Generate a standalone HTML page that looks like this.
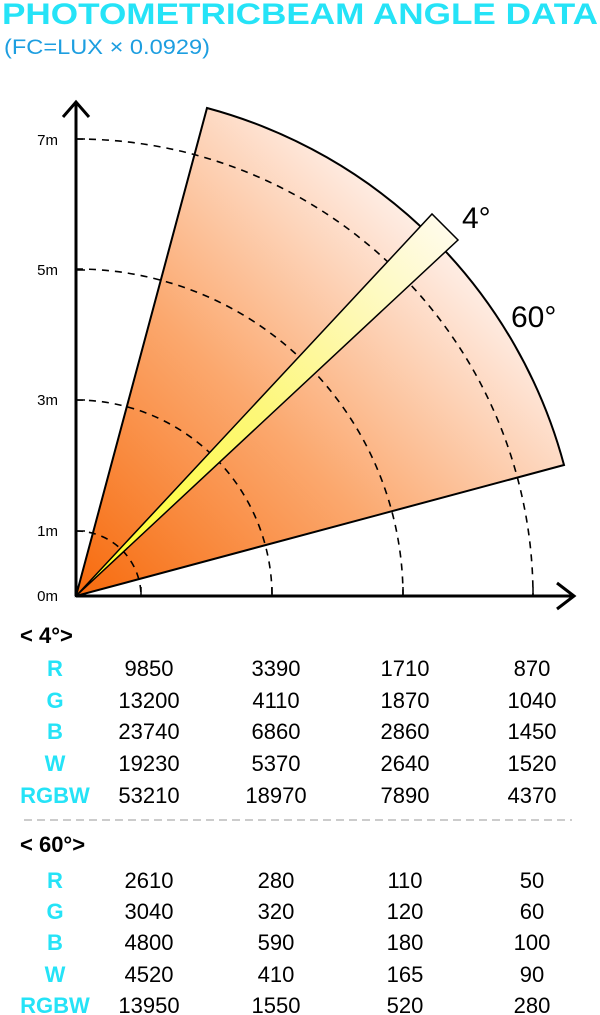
<!DOCTYPE html>
<html><head><meta charset="utf-8"><style>
html,body{margin:0;padding:0;background:#fff;}
svg{display:block;}
text{font-family:"Liberation Sans",Arial,sans-serif;}
</style></head><body>
<svg width="600" height="1015" viewBox="0 0 600 1015" xmlns="http://www.w3.org/2000/svg">
<defs>
<linearGradient id="fan" x1="76" y1="596" x2="480" y2="190" gradientUnits="userSpaceOnUse">
<stop offset="0" stop-color="#f76a0c"/>
<stop offset="0.45" stop-color="#fba86e"/>
<stop offset="0.85" stop-color="#fee8dc"/>
<stop offset="1" stop-color="#ffffff"/>
</linearGradient>
<linearGradient id="beam" x1="76" y1="596" x2="445" y2="227" gradientUnits="userSpaceOnUse">
<stop offset="0" stop-color="#ffff20"/>
<stop offset="0.5" stop-color="#fdf77a"/>
<stop offset="1" stop-color="#fffbea"/>
</linearGradient>
</defs>
<text x="2" y="24" font-size="30" font-weight="bold" fill="#25e3f7" textLength="596" lengthAdjust="spacingAndGlyphs">PHOTOMETRICBEAM ANGLE DATA</text>
<text x="4" y="54" font-size="21" fill="#1d9ee0" textLength="206" lengthAdjust="spacingAndGlyphs">(FC=LUX × 0.0929)</text>

<path d="M76,596 L207,108 A505,505 0 0 1 564,465 Z" fill="url(#fan)" stroke="#000" stroke-width="2"/>
<g fill="none" stroke="#000" stroke-width="1.6" stroke-dasharray="7,6">
<path d="M76,531 A65,65 0 0 1 141,596"/>
<path d="M76,400 A196,196 0 0 1 272,596"/>
<path d="M76,269 A327,327 0 0 1 403,596"/>
<path d="M76,139 A457,457 0 0 1 533,596"/>
</g>
<polygon points="76,596 432,214 458,240" fill="url(#beam)" stroke="#000" stroke-width="1.5"/>

<g stroke="#000" stroke-width="3" fill="none">
<line x1="76" y1="596" x2="76" y2="102"/>
<polyline points="63,117 76,102 89,117"/>
<line x1="76" y1="596" x2="574" y2="596"/>
<polyline points="557,583 574,596 557,609"/>
</g>
<g stroke="#000" stroke-width="1.5">
<line x1="141" y1="596" x2="141" y2="587"/>
<line x1="272" y1="596" x2="272" y2="587"/>
<line x1="403" y1="596" x2="403" y2="587"/>
<line x1="533" y1="596" x2="533" y2="587"/>
<line x1="76" y1="531" x2="85" y2="531"/>
<line x1="76" y1="400" x2="85" y2="400"/>
<line x1="76" y1="270" x2="85" y2="270"/>
<line x1="76" y1="139" x2="85" y2="139"/>
</g>
<g font-size="15" fill="#000" text-anchor="end">
<text x="58" y="601">0m</text>
<text x="58" y="536">1m</text>
<text x="58" y="405">3m</text>
<text x="58" y="275">5m</text>
<text x="58" y="145">7m</text>
</g>
<text x="462" y="228" font-size="30" fill="#000">4°</text>
<text x="511" y="327" font-size="30" fill="#000">60°</text>

<text x="20" y="643" font-size="22" font-weight="bold" fill="#000">&lt; 4°&gt;</text>
<g font-size="22" font-weight="bold" fill="#25e3f7" text-anchor="middle">
<text x="55" y="676">R</text><text x="55" y="708">G</text><text x="55" y="739">B</text><text x="55" y="771">W</text><text x="55" y="803">RGBW</text>
<text x="55" y="888">R</text><text x="55" y="919">G</text><text x="55" y="950">B</text><text x="55" y="982">W</text><text x="55" y="1013">RGBW</text>
</g>
<g font-size="22" fill="#000" text-anchor="middle">
<text x="149" y="676">9850</text><text x="276" y="676">3390</text><text x="405" y="676">1710</text><text x="532" y="676">870</text>
<text x="149" y="708">13200</text><text x="276" y="708">4110</text><text x="405" y="708">1870</text><text x="532" y="708">1040</text>
<text x="149" y="739">23740</text><text x="276" y="739">6860</text><text x="405" y="739">2860</text><text x="532" y="739">1450</text>
<text x="149" y="771">19230</text><text x="276" y="771">5370</text><text x="405" y="771">2640</text><text x="532" y="771">1520</text>
<text x="149" y="803">53210</text><text x="276" y="803">18970</text><text x="405" y="803">7890</text><text x="532" y="803">4370</text>
<text x="149" y="888">2610</text><text x="276" y="888">280</text><text x="405" y="888">110</text><text x="532" y="888">50</text>
<text x="149" y="919">3040</text><text x="276" y="919">320</text><text x="405" y="919">120</text><text x="532" y="919">60</text>
<text x="149" y="950">4800</text><text x="276" y="950">590</text><text x="405" y="950">180</text><text x="532" y="950">100</text>
<text x="149" y="982">4520</text><text x="276" y="982">410</text><text x="405" y="982">165</text><text x="532" y="982">90</text>
<text x="149" y="1013">13950</text><text x="276" y="1013">1550</text><text x="405" y="1013">520</text><text x="532" y="1013">280</text>
</g>
<line x1="24" y1="820" x2="572" y2="820" stroke="#bbb" stroke-width="1.5" stroke-dasharray="8,5"/>
<text x="20" y="852" font-size="22" font-weight="bold" fill="#000">&lt; 60°&gt;</text>
</svg>
</body></html>
